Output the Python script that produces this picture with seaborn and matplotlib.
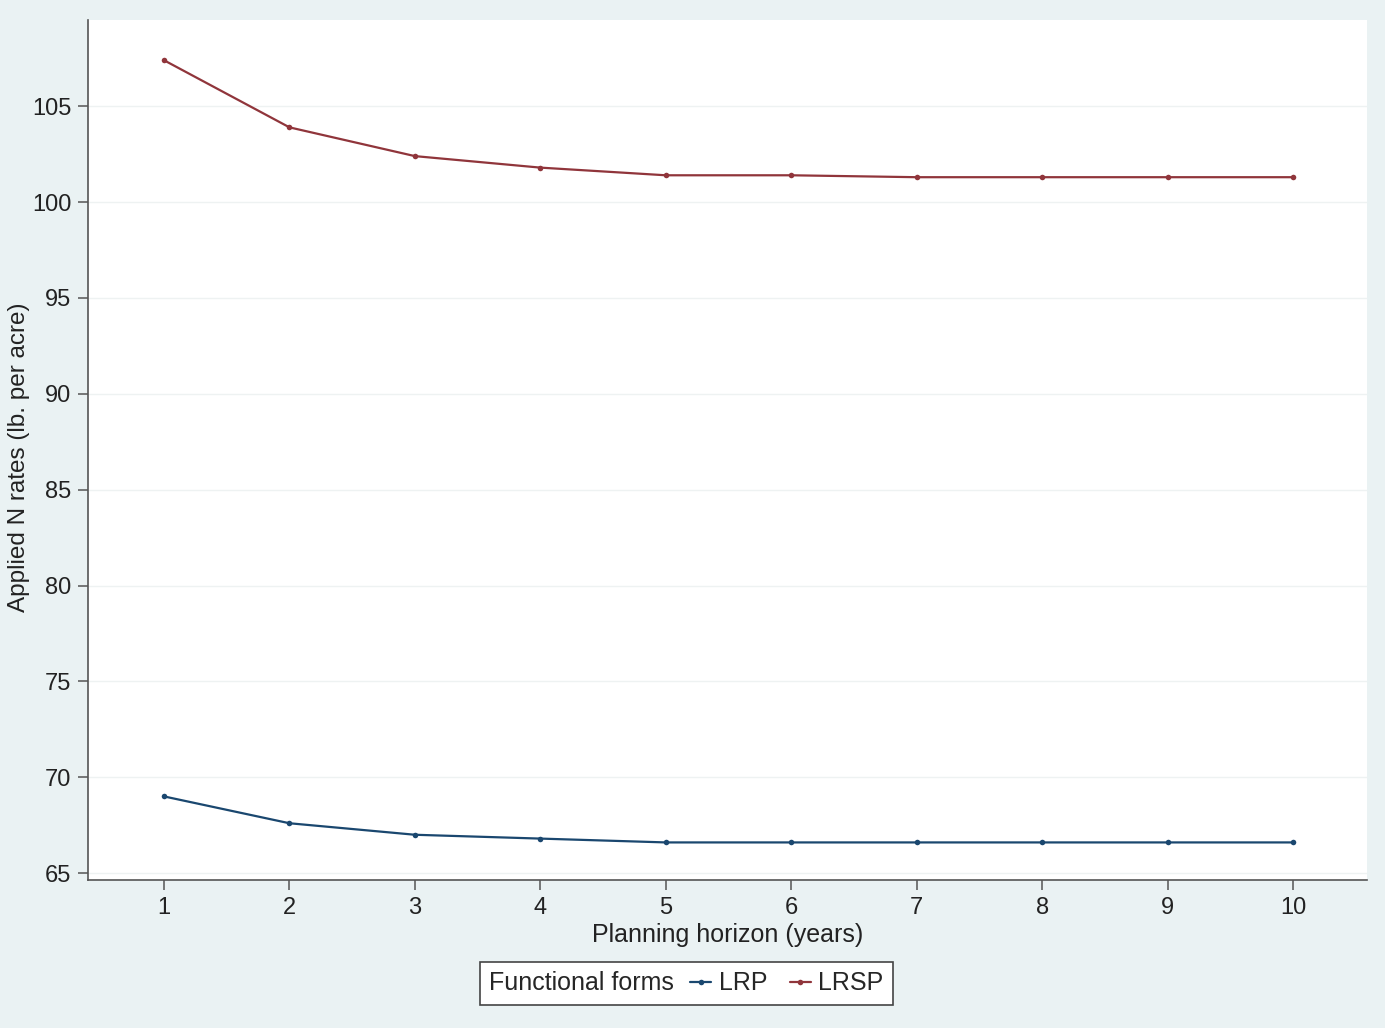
import matplotlib
matplotlib.use("Agg")
import matplotlib.pyplot as plt
import seaborn as sns
import pandas as pd
from matplotlib.lines import Line2D
from matplotlib.offsetbox import HPacker

horizon = [1, 2, 3, 4, 5, 6, 7, 8, 9, 10]
lrp = [69.0, 67.6, 67.0, 66.8, 66.6, 66.6, 66.6, 66.6, 66.6, 66.6]
lrsp = [107.4, 103.9, 102.4, 101.8, 101.4, 101.4, 101.3, 101.3, 101.3, 101.3]
forms = ["LRP", "LRSP"]
colors = {"LRP": "#1a476f", "LRSP": "#90353b"}
yticks = [65, 70, 75, 80, 85, 90, 95, 100, 105]

df = pd.DataFrame({
    "horizon": horizon * 2,
    "rate": lrp + lrsp,
    "form": ["LRP"] * len(horizon) + ["LRSP"] * len(horizon),
})

sns.set_theme(style="white")
plt.rcParams["font.family"] = ["Liberation Sans", "DejaVu Sans"]

bg = "#eaf2f3"
fig = plt.figure(figsize=(13.85, 10.28), dpi=100, facecolor=bg)
ax = fig.add_axes([88 / 1385, 1 - 880 / 1028, (1367 - 88) / 1385, (880 - 20) / 1028])
ax.set_facecolor("white")

sns.lineplot(data=df, x="horizon", y="rate", hue="form", hue_order=forms,
             palette=colors, marker="o", markersize=4, markeredgewidth=0,
             linewidth=1.6, legend=False, ax=ax)

ax.set_xlim(0.394, 10.59)
ax.set_ylim(64.64, 109.5)
ax.set_xticks(horizon)
ax.set_yticks(yticks)
ax.tick_params(axis="both", labelsize=17, labelcolor="#222222", direction="out",
               length=7, width=1.1, color="#555555", pad=5, bottom=True, left=True)
for yv in yticks:
    ax.axhline(yv, color="#eef2f2", linewidth=1.0, zorder=0)
for s in ["top", "right"]:
    ax.spines[s].set_visible(False)
for s in ["left", "bottom"]:
    ax.spines[s].set_color("#555555")
    ax.spines[s].set_linewidth(1.2)

ax.set_xlabel("Planning horizon (years)", fontsize=18, color="#222222", labelpad=3)
ax.set_ylabel("Applied N rates (lb. per acre)", fontsize=17.5, color="#222222")
ax.yaxis.set_label_coords((30 - 88) / 1279, (880 - 457.5) / 860)

handles = [Line2D([], [], color=colors[f], marker="o", markersize=4,
                  markeredgewidth=0, linewidth=1.6) for f in forms]
leg = fig.legend(handles, forms, loc="center", bbox_to_anchor=(686.5 / 1385, 1 - 983.5 / 1028),
                 ncol=2, fontsize=18, title="Functional forms", title_fontsize=18,
                 frameon=True, fancybox=False, edgecolor="#444444", facecolor="white",
                 handlelength=0.85, handletextpad=0.3, columnspacing=0.9, borderpad=0.25)
leg.get_frame().set_linewidth(1.2)
leg.get_frame().set_alpha(1)
fs = 18 * 100 / 72
leg._legend_box = HPacker(pad=0.28 * fs, sep=0.45 * fs, align="center",
                          children=[leg._legend_title_box, leg._legend_handle_box])
leg._legend_box.set_figure(fig)
leg._legend_box.set_offset(leg._findoffset)

fig.savefig("out.png", dpi=100, facecolor=bg)
